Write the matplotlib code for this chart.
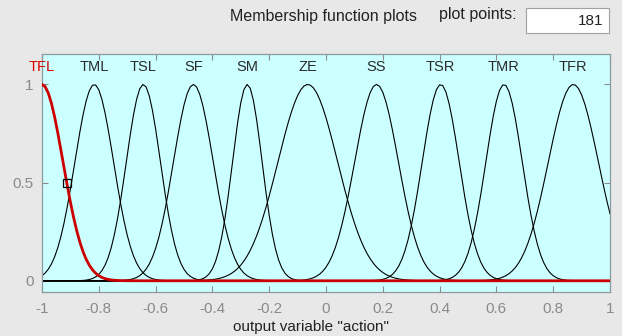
import numpy as np
import matplotlib.pyplot as plt
from matplotlib.patches import Rectangle

# output variable "action": ten gaussian membership functions on [-1, 1]
mf_names = ['TFL', 'TML', 'TSL', 'SF', 'SM', 'ZE', 'SS', 'TSR', 'TMR', 'TFR']
mf_centers = [-1.0, -0.816, -0.643, -0.467, -0.277, -0.064, 0.178, 0.404, 0.627, 0.871]
mf_sigmas = [0.074, 0.068, 0.060, 0.070, 0.052, 0.105, 0.077, 0.065, 0.064, 0.088]
plot_points = 181
selected = 'TFL'

x = np.linspace(-1, 1, plot_points)

def gaussmf(x, sig, c):
    return np.exp(-(x - c) ** 2 / (2 * sig ** 2))

plt.rcParams['font.family'] = ['Liberation Sans', 'DejaVu Sans']

bg = '#e8e8e8'
fig = plt.figure(figsize=(6.22, 3.36), dpi=100, facecolor=bg)
ax = fig.add_axes([0.0675, 0.131, 0.9132, 0.7083])
ax.set_facecolor('#ccffff')

for name, c, s in zip(mf_names, mf_centers, mf_sigmas):
    y = gaussmf(x, s, c)
    if name == selected:
        continue
    ax.plot(x, y, color='black', lw=0.8, zorder=2)
    ax.text(c, 1.09, name, ha='center', va='center', fontsize=10.5, color='#2a2a2a')

# selected function drawn on top in red with its handle
i = mf_names.index(selected)
y_sel = gaussmf(x, mf_sigmas[i], mf_centers[i])
ax.plot(x, y_sel, color='#cc0000', lw=2.0, zorder=3)
ax.text(mf_centers[i], 1.09, selected, ha='center', va='center', fontsize=10.5,
        color='#dd0000', clip_on=False)
x_half = mf_centers[i] + mf_sigmas[i] * np.sqrt(2 * np.log(2))
ax.plot([x_half], [0.5], marker='s', ms=6, mfc='none', mec='black', mew=0.9, zorder=4)

ax.set_xlim(-1, 1)
ax.set_ylim(-0.057, 1.155)
ax.set_xticks(np.arange(-1, 1.01, 0.2))
ax.set_xticklabels(['-1', '-0.8', '-0.6', '-0.4', '-0.2', '0', '0.2', '0.4', '0.6', '0.8', '1'])
ax.set_yticks([0, 0.5, 1])
ax.set_yticklabels(['0', '0.5', '1'])
ax.tick_params(direction='in', length=4, width=0.8, colors='#8a8a8a', labelsize=11,
               top=True, right=True, pad=6)
ax.tick_params(axis='x', pad=7)
for sp in ax.spines.values():
    sp.set_color('#8a9aa0')
    sp.set_linewidth(0.9)

fig.text(0.5, 1 - 327.5 / 336, 'output variable "action"', ha='center', va='center',
         fontsize=11, color='#222222')

# header row
fig.text(324 / 622, 1 - 17 / 336, 'Membership function plots', ha='center', va='center',
         fontsize=11.5, color='#222222')
fig.text(478 / 622, 1 - 15 / 336, 'plot points:', ha='center', va='center',
         fontsize=11.5, color='#222222')
fig.patches.append(Rectangle((526 / 622, 1 - 33 / 336), 83 / 622, 25 / 336,
                             transform=fig.transFigure, facecolor='white',
                             edgecolor='#a0a0a0', lw=0.8))
fig.text(603 / 622, 1 - 21 / 336, str(plot_points), ha='right', va='center',
         fontsize=11, color='#222222')

fig.savefig('out.png', dpi=100, facecolor=bg)
